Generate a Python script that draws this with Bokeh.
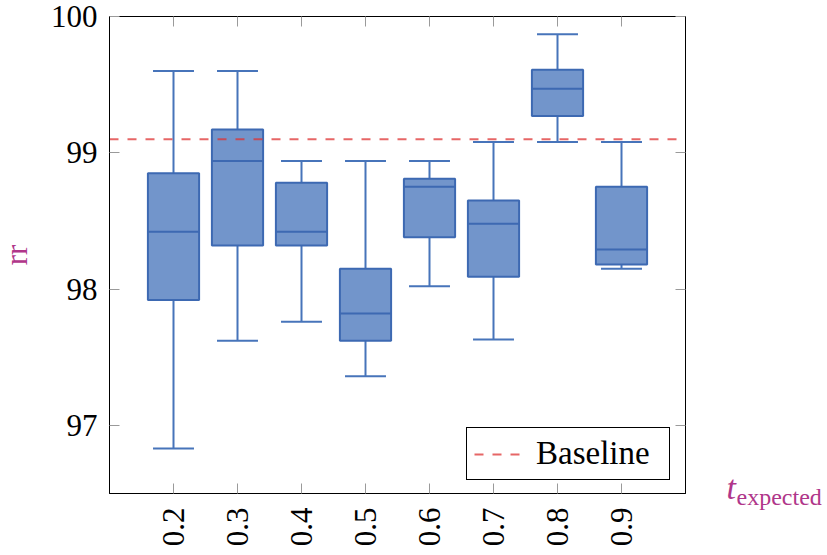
import numpy as np
from bokeh.plotting import figure
from bokeh.models import Range1d, FixedTicker, LinearAxis, Legend, LegendItem, Label, ColumnDataSource
from bokeh.embed import file_html
from bokeh.resources import INLINE

# ---------------- data ----------------
t_expected = [0.2, 0.3, 0.4, 0.5, 0.6, 0.7, 0.8, 0.9]
x_tick_labels = ["0.2", "0.3", "0.4", "0.5", "0.6", "0.7", "0.8", "0.9"]
lower_whisker = [96.83, 97.62, 97.76, 97.36, 98.02, 97.63, 99.08, 98.15]
q1 = [97.92, 98.32, 98.32, 97.62, 98.38, 98.09, 99.27, 98.18]
median = [98.42, 98.94, 98.42, 97.82, 98.75, 98.48, 99.47, 98.29]
q3 = [98.85, 99.17, 98.78, 98.15, 98.81, 98.65, 99.61, 98.75]
upper_whisker = [99.60, 99.60, 98.94, 98.94, 98.94, 99.08, 99.87, 99.08]
baseline = [99.1]
y_ticks = [97, 98, 99, 100]
y_tick_labels = ["97", "98", "99", "100"]

X_START, X_END = 0.1, 1.0
Y_START, Y_END = 96.5, 100.0

# ---------------- style / layout ----------------
W, H = 827, 555
FRAME_L, FRAME_R, FRAME_T, FRAME_B = 109, 685, 16, 493
BOX_W = 0.08
CAP_W = 0.064
FILL = "#7295CB"
EDGE = "#3D69B2"
WHISK = "#4774BA"
MAGENTA = "#B0368A"
FONT = "Liberation Serif"


def px_x(px):
    return X_START + (px - FRAME_L) / (FRAME_R - FRAME_L) * (X_END - X_START)


def px_y(py):
    return Y_END - (py - FRAME_T) / (FRAME_B - FRAME_T) * (Y_END - Y_START)


p = figure(width=W, height=H, output_backend="svg", toolbar_location=None,
           x_range=Range1d(X_START, X_END), y_range=Range1d(Y_START, Y_END),
           min_border_left=FRAME_L, min_border_right=W - FRAME_R,
           min_border_top=FRAME_T, min_border_bottom=H - FRAME_B)
p.xgrid.visible = False
p.ygrid.visible = False
p.outline_line_color = "black"
p.outline_line_width = 1
p.outline_line_alpha = 1.0
p.background_fill_color = "white"
p.border_fill_color = "white"


def style_axis(ax, ticks, labels, show):
    ax.ticker = FixedTicker(ticks=ticks)
    ax.major_tick_in = 10
    ax.major_tick_out = 0
    ax.minor_tick_in = 0
    ax.minor_tick_out = 0
    ax.major_tick_line_color = "#9a9a9a"
    ax.major_tick_line_width = 1
    ax.axis_line_color = "black"
    ax.major_label_text_font = FONT
    ax.major_label_text_color = "black"
    if show:
        ax.major_label_overrides = {t: l for t, l in zip(ticks, labels)}
        ax.major_label_text_font_size = "31px"
        ax.major_label_standoff = 12
    else:
        ax.major_label_overrides = {t: "" for t in ticks}
        ax.major_label_text_font_size = "0px"
        ax.major_label_standoff = 0


xb = p.xaxis[0]
yl = p.yaxis[0]
style_axis(xb, t_expected, x_tick_labels, True)
style_axis(yl, y_ticks, y_tick_labels, True)
xb.major_label_orientation = np.pi / 2
xb.major_label_standoff = 14

top_ax = LinearAxis()
right_ax = LinearAxis()
style_axis(top_ax, t_expected, x_tick_labels, False)
style_axis(right_ax, y_ticks, y_tick_labels, False)
p.add_layout(top_ax, "above")
p.add_layout(right_ax, "right")

x = np.array(t_expected)
src = ColumnDataSource(dict(
    x=x, lw=lower_whisker, q1=q1, med=median, q3=q3, uw=upper_whisker,
    bl=x - BOX_W / 2, br=x + BOX_W / 2, cl=x - CAP_W / 2, cr=x + CAP_W / 2,
))

# whiskers
p.segment(x0="x", y0="q3", x1="x", y1="uw", source=src, line_color=WHISK, line_width=2)
p.segment(x0="x", y0="lw", x1="x", y1="q1", source=src, line_color=WHISK, line_width=2)
# caps
p.segment(x0="cl", y0="uw", x1="cr", y1="uw", source=src, line_color=WHISK, line_width=2)
p.segment(x0="cl", y0="lw", x1="cr", y1="lw", source=src, line_color=WHISK, line_width=2)
# boxes
p.vbar(x="x", width=BOX_W, top="q3", bottom="q1", source=src,
       fill_color=FILL, line_color=EDGE, line_width=2)
# medians
p.segment(x0="bl", y0="med", x1="br", y1="med", source=src, line_color=EDGE, line_width=2)

# baseline
bl_r = p.line(x=[X_START, X_END], y=[baseline[0], baseline[0]], line_color="#DD3333",
              line_alpha=0.75, line_width=2, line_dash="9 9")

legend = Legend(items=[LegendItem(label="Baseline", renderers=[bl_r])],
                location=(357, 13), margin=0, padding=7, spacing=0,
                glyph_width=46, glyph_height=20, label_standoff=16, label_width=126,
                border_line_color="black", border_line_width=1, border_line_alpha=1,
                background_fill_color="white", background_fill_alpha=1,
                label_text_font=FONT, label_text_font_size="33px",
                label_text_color="black")
p.add_layout(legend)

# axis titles (placed in side panels so they are not clipped to the frame)
p.add_layout(Label(x=px_x(16), y=px_y(254.5), text="rr", angle=np.pi / 2,
                   text_font=FONT, text_font_size="31px", text_color=MAGENTA,
                   text_baseline="alphabetic", text_align="center"), "left")
p.add_layout(Label(x=px_x(726), y=px_y(487), text="t",
                   text_font=FONT, text_font_style="italic", text_font_size="34px",
                   text_color=MAGENTA, text_baseline="alphabetic", text_align="left"), "right")
p.add_layout(Label(x=px_x(736), y=px_y(496), text="expected",
                   text_font=FONT, text_font_size="24px",
                   text_color=MAGENTA, text_baseline="alphabetic", text_align="left"), "right")

open("out.html", "w").write(file_html(p, INLINE))
